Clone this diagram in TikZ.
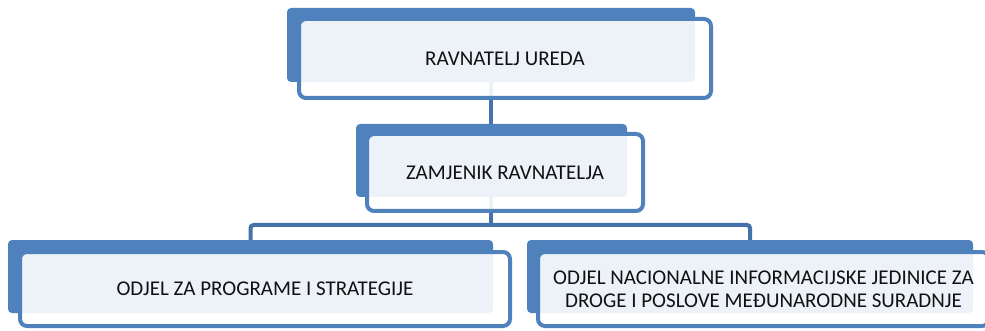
\documentclass[tikz,border=0pt]{standalone}
\usepackage{fontspec}
\setmainfont{Carlito}
\definecolor{orgBlue}{HTML}{4F81BD}
\definecolor{orgLink}{HTML}{4572AA}
\definecolor{orgText}{HTML}{111111}
\usetikzlibrary{calc,positioning}

\tikzset{
  backcard/.style={fill=orgBlue, rounded corners=4pt, inner sep=0pt},
  frontcard/.style={draw=orgBlue, line width=4pt, fill=white, fill opacity=0.9,
    text opacity=1, rounded corners=7pt, inner sep=0pt, text=orgText,
    font=\fontsize{21}{23}\selectfont, align=center},
  link/.style={draw=orgLink, line width=4pt, rounded corners=3pt}
}

\begin{document}
\begin{tikzpicture}[x=1pt, y=-1pt]
  \useasboundingbox (0,0) rectangle (985,331);
  % links first, cards go over them
  \coordinate (topB) at (491,82);
  \coordinate (midT) at (491,124);
  \coordinate (midB) at (491,197);
  \coordinate (split) at (491,225);
  \draw[link] (topB) -- (midT);
  \draw[link] (midB) -- (split);
  \draw[link] (split) -| (250.5,240);
  \draw[link] (split) -| (750,240);

  % back cards
  \node[backcard, minimum width=408pt, minimum height=74pt] (ravnateljBack) at (491,45) {};
  \node[backcard, minimum width=271pt, minimum height=73pt] (zamjenikBack) at (491.5,160.5) {};
  \node[backcard, minimum width=485pt, minimum height=73pt] (programiBack) at (250.5,276.5) {};
  \node[backcard, minimum width=446pt, minimum height=73pt] (jedinicaBack) at (750,276.5) {};

  % front cards
  \node[frontcard, minimum width=412pt, minimum height=79pt] (ravnatelj) at (505,58.5) {RAVNATELJ UREDA};
  \node[frontcard, minimum width=276pt, minimum height=77pt] (zamjenik) at (505,172.5) {ZAMJENIK RAVNATELJA};
  \node[frontcard, minimum width=490pt, minimum height=74pt] (programi) at (265,289) {ODJEL ZA PROGRAME I STRATEGIJE};
  \node[frontcard, minimum width=451pt, minimum height=74pt] (jedinica) at (763.5,289) {ODJEL NACIONALNE INFORMACIJSKE JEDINICE ZA\\DROGE I POSLOVE MEĐUNARODNE SURADNJE};
\end{tikzpicture}
\end{document}
